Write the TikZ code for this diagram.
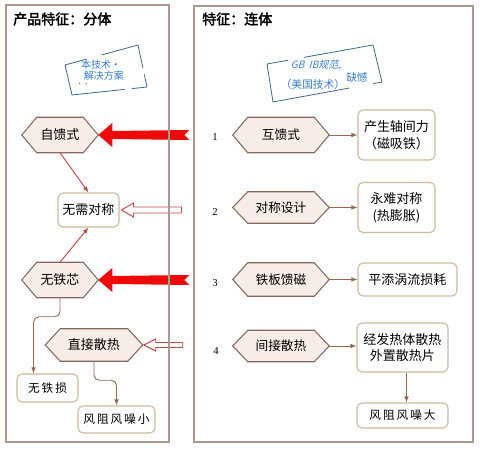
\documentclass[tikz,border=0pt]{standalone}
\usepackage{fontspec}
\newfontfamily\cjk{Noto Sans CJK SC}
\newfontfamily\cjkb{Noto Sans CJK SC}[FakeBold=2.5]
\newfontfamily\cjki{Noto Sans CJK SC}[FakeSlant=0.25]
\newfontfamily\numf{Liberation Serif}
\usetikzlibrary{arrows.meta,calc}
\pgfdeclarelayer{bg}
\pgfsetlayers{bg,main}
\definecolor{panelc}{RGB}{172,152,142}
\definecolor{hexline}{RGB}{135,105,92}
\definecolor{hexfill}{RGB}{246,236,232}
\definecolor{boxline}{RGB}{205,185,155}
\definecolor{connc}{RGB}{150,105,85}
\definecolor{rconnc}{RGB}{198,70,70}
\definecolor{bigred}{RGB}{238,10,10}
\definecolor{stampline}{RGB}{60,105,135}
\definecolor{stamptext}{RGB}{55,125,205}
% #1 optional style, #2 name, #3 x, #4 y, #5 width, #6 height, #7 text
\newcommand\hexshape[7][]{%
  \node[hexn,#1,minimum width=#5*0.75pt,minimum height=#6*0.75pt] (#2) at (#3,#4) {#7};
  \begin{pgfonlayer}{bg}
  \draw[hexd] (#2.west) -- ([shift={(15,0)}]#2.north west) -- ([shift={(-15,0)}]#2.north east)
    -- (#2.east) -- ([shift={(-15,0)}]#2.south east) -- ([shift={(15,0)}]#2.south west) -- cycle;
  \end{pgfonlayer}}
\begin{document}
\begin{tikzpicture}[x=0.75pt,y=-0.75pt,
  panel/.style={draw=panelc, line width=0.9pt},
  hexn/.style={inner sep=0pt, font=\cjk\fontsize{9.75pt}{12pt}\selectfont},
  hexr/.style={font=\cjk\fontsize{9.5pt}{11pt}\selectfont},
  hexd/.style={draw=hexline, fill=hexfill, line width=0.8pt},
  rbox/.style={draw=boxline, fill=white, rounded corners=3.75pt, line width=0.8pt,
    inner sep=0pt, align=center, font=\cjk\fontsize{9.75pt}{12.5pt}\selectfont},
  sbox/.style={rbox, font=\cjk\fontsize{8.75pt}{11pt}\selectfont},
  conn/.style={draw=connc, line width=0.7pt, -{Latex[length=4.5pt,width=3.5pt]}},
  rconn/.style={conn, draw=rconnc},
  bigarrow/.style={fill=bigred, draw=none},
  hollowarrow/.style={fill=white, draw=rconnc, line width=0.7pt},
  stamp/.style={draw=stampline, line width=0.6pt},
  stamptxt/.style={text=stamptext, font=\cjk\fontsize{7.5pt}{9pt}\selectfont, inner sep=0pt},
  title/.style={font=\cjkb\fontsize{10.5pt}{12pt}\selectfont, inner sep=0pt, anchor=west},
  num/.style={font=\numf\fontsize{8pt}{10pt}\selectfont, inner sep=0pt}
]
\useasboundingbox (0,0) rectangle (480,452);

% titles
\node[title] (t1) at (13,19) {产品特征：分体};
\node[title] (t2) at (202,19) {特征：连体};

% stamp 1
\coordinate (a1) at (65,65); \coordinate (b1) at (138,45);
\coordinate (c1) at (147,87); \coordinate (d1) at (72,95);
\draw[stamp] (a1) -- ($(a1)!0.3!(b1)$) ($(a1)!0.5!(b1)$) -- (b1) -- ($(b1)!0.55!(c1)$)
  ($(b1)!0.7!(c1)$) -- (c1) -- ($(c1)!0.2!(d1)$) ($(c1)!0.3!(d1)$) -- (d1) -- (a1);
\node[stamptxt] (s1a) at (101,65) {本技术·};
\node[stamptxt] (s1b) at (104,76) {解决方案};
\node[stamptxt, font=\cjk\fontsize{5pt}{6pt}\selectfont] (s1c) at (83,85) {··};

% stamp 2
\coordinate (a2) at (267,64); \coordinate (b2) at (373,45);
\coordinate (c2) at (382,82); \coordinate (d2) at (273,102);
\draw[stamp] (a2) -- ($(a2)!0.2!(b2)$) ($(a2)!0.35!(b2)$) -- (b2) -- (c2) -- ($(c2)!0.08!(d2)$)
  ($(c2)!0.3!(d2)$) -- (d2) -- (a2);
\node[stamptxt, font=\cjki\fontsize{7.5pt}{9pt}\selectfont] (s2a) at (316,65) {GB\ \ IB规范,};
\node[stamptxt, font=\cjk\fontsize{8pt}{9pt}\selectfont] (s2b) at (357,77) {缺憾};
\node[stamptxt, font=\cjk\fontsize{8pt}{9pt}\selectfont] (s2c) at (313,84) {（美国技术）};

% left column
\hexshape{zk}{60}{135}{76}{35}{自馈式}
\node[rbox, minimum width=61*0.75pt, minimum height=34*0.75pt] (wx) at (88.5,210) {无需对称};
\hexshape{wtx}{60}{280}{76}{35}{无铁芯}
\hexshape{zjs}{94}{345}{97}{32}{直接散热}
\node[sbox, minimum width=61*0.75pt, minimum height=28*0.75pt] (wts) at (47.5,388) {无\,铁\,损};
\node[sbox, minimum width=77*0.75pt, minimum height=27*0.75pt] (fzx) at (116.5,419.5) {风\,阻\,风\,噪\,小};

\draw[rconn] (zk.south) -- (wx.north);
\draw[rconn] (wtx.north) -- (wx.south);
\draw[conn, rounded corners=4pt] (wtx.south) -- ++(0,19) -| ([shift={(-14,0)}]wts.north);
\draw[conn, rounded corners=4pt] (zjs.south) -- ++(0,19) -| (fzx.north);

% right column
\node[num] (n1) at (215,137) {1};
\node[num] (n2) at (215,212) {2};
\node[num] (n3) at (215,283) {3};
\node[num] (n4) at (216,351) {4};
\hexshape[hexr]{hk}{281}{135}{96}{35}{互馈式}
\hexshape[hexr]{dc}{281}{207.5}{96}{31}{对称设计}
\hexshape[hexr]{tb}{281}{279.5}{96}{33}{铁板馈磁}
\hexshape[hexr]{jj}{281}{346}{96}{31}{间接散热}
\node[rbox, minimum width=77*0.75pt, minimum height=50*0.75pt] (r1) at (396.5,135) {产生轴间力\\（磁吸铁）};
\node[rbox, minimum width=77*0.75pt, minimum height=50*0.75pt] (r2) at (396.5,207.5) {永难对称\\(热膨胀)};
\node[rbox, minimum width=99*0.75pt, minimum height=33*0.75pt] (r3) at (407.5,279.5) {平添涡流损耗};
\node[rbox, minimum width=91*0.75pt, minimum height=49*0.75pt] (r4) at (402.5,347.5) {经发热体散热\\外置散热片};
\node[sbox, minimum width=91*0.75pt, minimum height=25*0.75pt] (r5) at (402.5,415.5) {风\,阻\,风\,噪\,大};

\draw[conn] (hk.east) -- (hk.east -| r1.west);
\draw[conn] (dc.east) -- (dc.east -| r2.west);
\draw[conn] (tb.east) -- (tb.east -| r3.west);
\draw[conn] (jj.east) -- (jj.east -| r4.west);
\draw[conn] ([shift={(4,0)}]r4.south) -- ([shift={(4,0)}]r5.north);

% red arrows into left column
\draw[bigarrow] (zk.east) -- ++(14,-12) -- ++(0,8) -- ++(77,-1) -- ++(-5,5) -- ++(5,5)
  -- ++(-77,-1) -- ++(0,8) -- cycle;
\draw[bigarrow] (wtx.east) -- ++(14,-12) -- ++(0,8) -- ++(77,-1) -- ++(-5,5) -- ++(5,5)
  -- ++(-77,-1) -- ++(0,8) -- cycle;
\draw[hollowarrow] ([shift={(2,0)}]wx.east) -- ++(12,-7) -- ++(0,4) -- ++(48,0) -- ++(0,6)
  -- ++(-48,0) -- ++(0,4) -- cycle;
\draw[hollowarrow] ([shift={(1,0)}]zjs.east) -- ++(12,-6) -- ++(0,3.5) -- ++(27,0) -- ++(0,5)
  -- ++(-27,0) -- ++(0,3.5) -- cycle;

% panels
\draw[panel] (6,5) rectangle (169,442);
\draw[panel] (194,6) rectangle (473,442);
\end{tikzpicture}
\end{document}
